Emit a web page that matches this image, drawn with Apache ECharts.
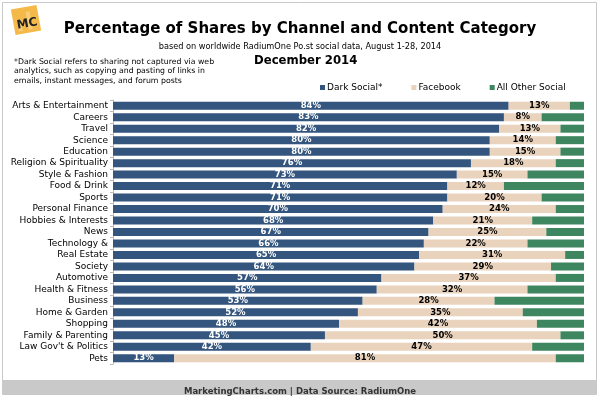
<!DOCTYPE html>
<html>
<head>
<meta charset="utf-8">
<script src="https://cdn.jsdelivr.net/npm/echarts@6/dist/echarts.min.js"></script>
<style>
  html, body { margin: 0; padding: 0; background: #fff; }
  #chart { width: 600px; height: 396px; }
</style>
</head>
<body>
<div id="chart"></div>
<script>
const categories = [
  'Arts & Entertainment', 'Careers', 'Travel', 'Science', 'Education',
  'Religion & Spirituality', 'Style & Fashion', 'Food & Drink', 'Sports',
  'Personal Finance', 'Hobbies & Interests', 'News', 'Technology &',
  'Real Estate', 'Society', 'Automotive', 'Health & Fitness', 'Business',
  'Home & Garden', 'Shopping', 'Family & Parenting', "Law Gov't & Politics", 'Pets'
]
const darkSocial = [84, 83, 82, 80, 80, 76, 73, 71, 71, 70, 68, 67, 66, 65, 64, 57, 56, 53, 52, 48, 45, 42, 13]
const facebook = [13, 8, 13, 14, 15, 18, 15, 12, 20, 24, 21, 25, 22, 31, 29, 37, 32, 28, 35, 42, 50, 47, 81]
const otherSocial = [3, 9, 5, 6, 5, 6, 12, 17, 9, 6, 11, 8, 12, 4, 7, 6, 12, 19, 13, 10, 5, 11, 6]

const font = 'DejaVu Sans'
const chart = echarts.init(document.getElementById('chart'))

chart.setOption({
  animation: false,
  backgroundColor: '#fff',
  textStyle: { fontFamily: font },
  title: [
    {
      text: 'Percentage of Shares by Channel and Content Category',
      left: 'center', top: 17,
      textStyle: { fontSize: 15, fontWeight: 'bold', color: '#000', fontFamily: font }
    },
    {
      text: 'based on worldwide RadiumOne Po.st social data, August 1-28, 2014',
      left: 'center', top: 38,
      textStyle: { fontSize: 8.2, fontWeight: 'normal', color: '#000', fontFamily: font }
    },
    {
      text: 'December 2014',
      left: 249, top: 50,
      textStyle: { fontSize: 11.7, fontWeight: 'bold', color: '#000', fontFamily: font }
    },
    {
      text: '*Dark Social refers to sharing not captured via web\nanalytics, such as copying and pasting of links in\nemails, instant messages, and forum posts',
      left: 9, top: 52,
      textStyle: { fontSize: 7.8, lineHeight: 9.5, fontWeight: 'normal', color: '#000', fontFamily: font }
    },
    {
      text: 'MarketingCharts.com | Data Source: RadiumOne',
      left: 'center', top: 382,
      textStyle: { fontSize: 8.5, fontWeight: 'bold', color: '#333', fontFamily: font }
    }
  ],
  graphic: [
    {
      type: 'rect', left: 2, top: 2, z: -10,
      shape: { width: 594, height: 392 },
      style: { fill: '#fff', stroke: '#c8c8c8', lineWidth: 1 }
    },
    {
      type: 'rect', left: 2, top: 380, z: -5,
      shape: { width: 594, height: 14 },
      style: { fill: '#c9c9c9' }
    },
    {
      type: 'group', x: 26, y: 20, rotation: 0.18,
      children: [
        { type: 'rect', shape: { x: -13, y: -13, width: 26, height: 26 }, style: { fill: '#f5b94a' } },
        { type: 'rect', shape: { x: -9, y: -2, width: 4, height: 12 }, style: { fill: '#f8cd7a' } },
        { type: 'rect', shape: { x: 1, y: -8, width: 4, height: 18 }, style: { fill: '#f8cd7a' } },
        {
          type: 'text', x: -10, y: -2,
          style: { text: 'MC', fontSize: 12, fontWeight: 'bold', fill: '#222', fontFamily: font }
        }
      ]
    }
  ],
  legend: {
    top: 78, left: 315,
    itemWidth: 5, itemHeight: 5, itemGap: 29,
    icon: 'rect',
    textStyle: { fontSize: 9, color: '#000', fontFamily: font, padding: [0, 0, 0, -3] },
    data: ['Dark Social*', 'Facebook', 'All Other Social']
  },
  grid: { left: 113, right: 16, top: 100, bottom: 32, containLabel: false },
  xAxis: { type: 'value', min: 0, max: 100, show: false },
  yAxis: {
    type: 'category',
    inverse: true,
    data: categories,
    axisLine: { lineStyle: { color: '#bbb' } },
    axisTick: { show: true, length: 3, interval: 0, lineStyle: { color: '#bbb' } },
    axisLabel: { fontSize: 9, color: '#000', margin: 5, interval: 0, fontFamily: font }
  },
  series: [
    {
      name: 'Dark Social*', type: 'bar', stack: 'total', barWidth: 8,
      itemStyle: { color: '#33557e' },
      label: {
        show: true, position: 'inside', formatter: '{c}%',
        color: '#fff', fontSize: 8.5, fontWeight: 'bold', fontFamily: font
      },
      data: darkSocial
    },
    {
      name: 'Facebook', type: 'bar', stack: 'total', barWidth: 8,
      itemStyle: { color: '#e9d3bd' },
      label: {
        show: true, position: 'inside', formatter: '{c}%',
        color: '#000', fontSize: 8.5, fontWeight: 'bold', fontFamily: font
      },
      data: facebook
    },
    {
      name: 'All Other Social', type: 'bar', stack: 'total', barWidth: 8,
      itemStyle: { color: '#3e8660' },
      data: otherSocial
    }
  ]
})
</script>
</body>
</html>
